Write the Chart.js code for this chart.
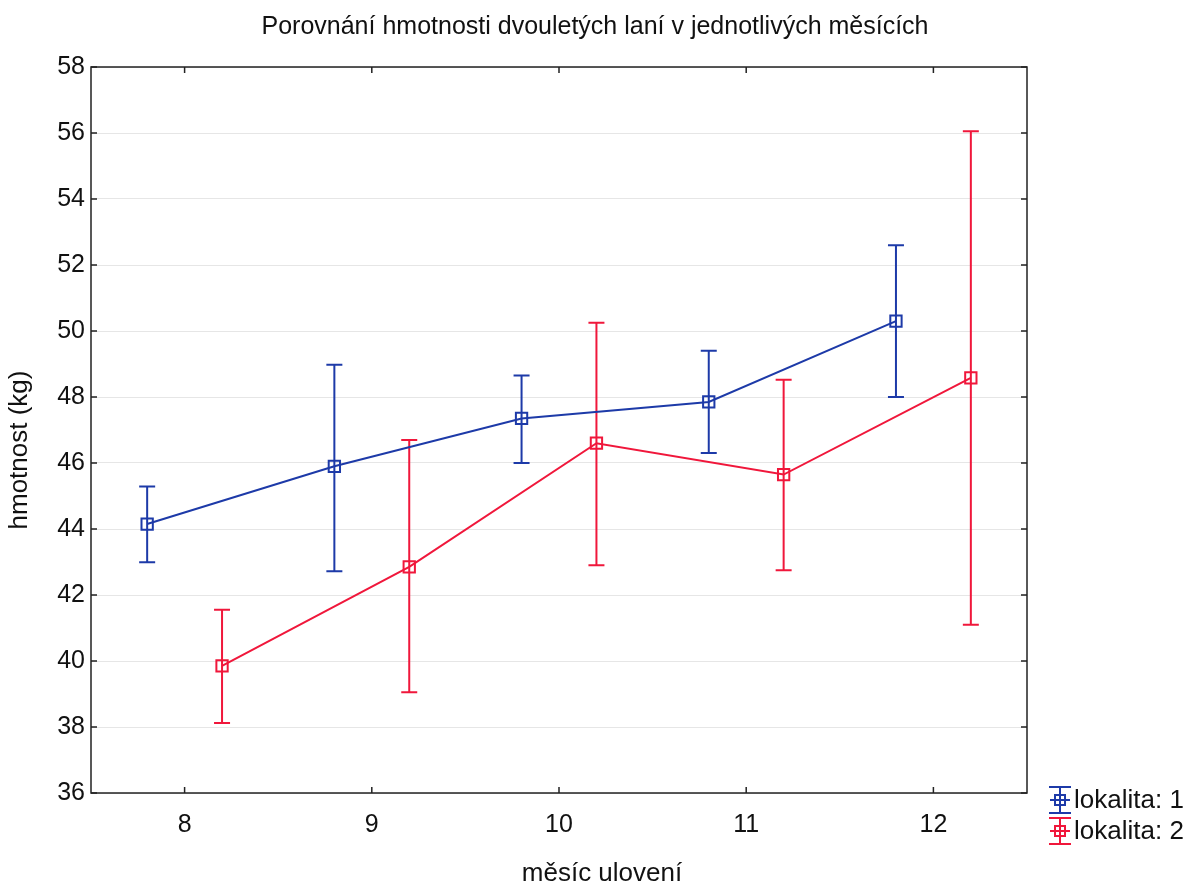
<!DOCTYPE html>
<html>
<head>
<meta charset="utf-8">
<script src="https://cdn.jsdelivr.net/npm/chart.js@4/dist/chart.umd.min.js"></script>
<style>
  body { margin: 0; background: #fff; }
</style>
</head>
<body>
<canvas id="chart" width="1190" height="886"></canvas>
<script>
// months on x axis, mean weight and 95% interval per locality
const months = [8, 9, 10, 11, 12]
const mean1 = [44.15, 45.9, 47.35, 47.85, 50.3]
const low1 = [42.99, 42.72, 46.0, 46.3, 48.0]
const high1 = [45.29, 48.98, 48.65, 49.4, 52.6]
const mean2 = [39.85, 42.85, 46.6, 45.65, 48.58]
const low2 = [38.12, 39.05, 42.9, 42.75, 41.1]
const high2 = [41.55, 46.7, 50.25, 48.52, 56.05]
const yTicks = [36, 38, 40, 42, 44, 46, 48, 50, 52, 54, 56, 58]
const seriesNames = ['lokalita: 1', 'lokalita: 2']
const title = 'Porovnání hmotnosti dvouletých laní v jednotlivých měsících'

const BLUE = '#1d3aa8'
const RED = '#f0173b'
const FONT = 'Liberation Sans, Arial, sans-serif'

const points = (means, shift) => means.map((v, i) => ({ x: months[i] + shift, y: v }))

const errorBars = {
  id: 'errorBars',
  beforeDatasetsDraw (chart) {
    const { ctx, scales: { x, y } } = chart
    chart.data.datasets.forEach(ds => {
      ctx.save()
      ctx.strokeStyle = ds.borderColor
      ctx.lineWidth = 2
      ds.data.forEach((p, i) => {
        const px = x.getPixelForValue(p.x)
        const top = y.getPixelForValue(ds.high[i])
        const bot = y.getPixelForValue(ds.low[i])
        ctx.beginPath()
        ctx.moveTo(px, top); ctx.lineTo(px, bot)
        ctx.moveTo(px - 8, top); ctx.lineTo(px + 8, top)
        ctx.moveTo(px - 8, bot); ctx.lineTo(px + 8, bot)
        ctx.stroke()
      })
      ctx.restore()
    })
  }
}

const frame = {
  id: 'frame',
  afterDraw (chart) {
    const { ctx, chartArea: a, scales: { x, y } } = chart
    ctx.save()
    ctx.strokeStyle = '#222'
    ctx.lineWidth = 1.5
    ctx.strokeRect(a.left, a.top, a.right - a.left, a.bottom - a.top)
    // inner ticks on all four sides
    ctx.beginPath()
    yTicks.forEach(v => {
      const py = y.getPixelForValue(v)
      ctx.moveTo(a.left, py); ctx.lineTo(a.left + 6, py)
      ctx.moveTo(a.right, py); ctx.lineTo(a.right - 6, py)
    })
    months.forEach(m => {
      const px = x.getPixelForValue(m)
      ctx.moveTo(px, a.bottom); ctx.lineTo(px, a.bottom - 6)
      ctx.moveTo(px, a.top); ctx.lineTo(px, a.top + 6)
    })
    ctx.stroke()

    ctx.fillStyle = '#111'
    ctx.textAlign = 'center'
    ctx.textBaseline = 'middle'
    // main title, centred on the whole page
    ctx.font = '25px ' + FONT
    ctx.fillText(title, 595, 27)

    // axis titles
    ctx.font = '26px ' + FONT
    ctx.fillText('měsíc ulovení', 602, 874)
    ctx.save()
    ctx.translate(20, 450)
    ctx.rotate(-Math.PI / 2)
    ctx.fillText('hmotnost (kg)', 0, 0)
    ctx.restore()

    // legend
    chart.data.datasets.forEach((ds, i) => {
      const cy = 800 + i * 31
      const cx = 1060
      ctx.strokeStyle = ds.borderColor
      ctx.lineWidth = 2
      ctx.beginPath()
      ctx.moveTo(cx, cy - 13); ctx.lineTo(cx, cy + 13)
      ctx.moveTo(cx - 11, cy - 13); ctx.lineTo(cx + 11, cy - 13)
      ctx.moveTo(cx - 11, cy + 13); ctx.lineTo(cx + 11, cy + 13)
      ctx.moveTo(cx - 10, cy); ctx.lineTo(cx + 10, cy)
      ctx.stroke()
      ctx.strokeRect(cx - 5, cy - 5, 10, 10)
      ctx.fillStyle = '#111'
      ctx.textAlign = 'left'
      ctx.fillText(seriesNames[i], 1074, cy + 1)
    })
    ctx.restore()
  }
}

new Chart(document.getElementById('chart'), {
  type: 'line',
  data: {
    datasets: [
      { label: seriesNames[0], data: points(mean1, -0.2), low: low1, high: high1, borderColor: BLUE },
      { label: seriesNames[1], data: points(mean2, 0.2), low: low2, high: high2, borderColor: RED }
    ]
  },
  options: {
    responsive: false,
    animation: false,
    devicePixelRatio: 1,
    layout: { padding: { left: 0, top: 67, right: 163, bottom: 0 } },
    elements: {
      line: { borderWidth: 2, tension: 0 },
      point: { pointStyle: 'rect', radius: 8, borderWidth: 2, backgroundColor: 'rgba(0,0,0,0)' }
    },
    plugins: {
      legend: { display: false },
      tooltip: { enabled: false },
      title: { display: false }
    },
    scales: {
      x: {
        type: 'linear',
        min: 7.5,
        max: 12.5,
        afterFit: s => { s.height = 93 },
        afterBuildTicks: s => { s.ticks = months.map(v => ({ value: v })) },
        grid: { display: false },
        border: { display: false },
        ticks: { color: '#111', padding: 9, font: { family: FONT, size: 25 } }
      },
      y: {
        min: 36,
        max: 58,
        afterFit: s => { s.width = 91 },
        afterBuildTicks: s => { s.ticks = yTicks.map(v => ({ value: v })) },
        grid: { color: '#e6e6e6', drawTicks: false },
        border: { display: false },
        ticks: { color: '#111', padding: 6, font: { family: FONT, size: 25 } }
      }
    }
  },
  plugins: [errorBars, frame]
})
</script>
</body>
</html>
